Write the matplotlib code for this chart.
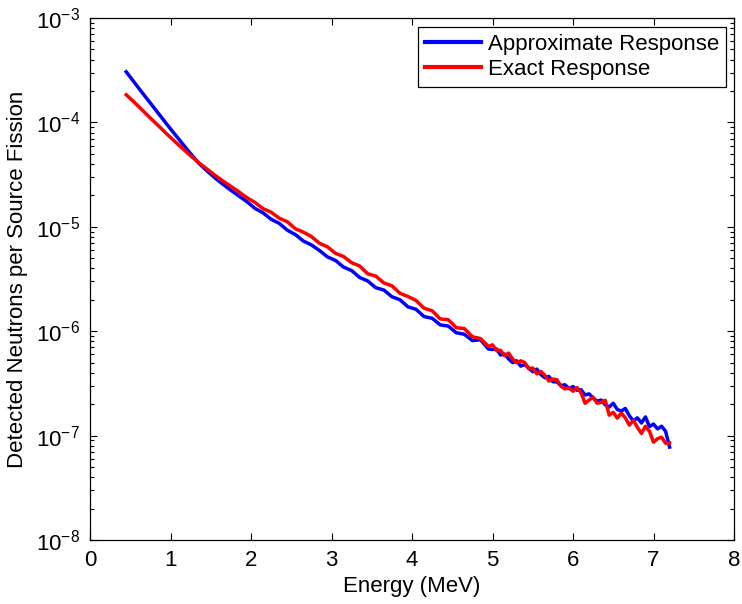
import numpy as np
import matplotlib
matplotlib.use("Agg")
import matplotlib.pyplot as plt

plt.rcParams['font.family'] = ['Liberation Sans', 'DejaVu Sans']
plt.rcParams['mathtext.fontset'] = 'custom'
plt.rcParams['mathtext.rm'] = 'Liberation Sans'
plt.rcParams['mathtext.it'] = 'Liberation Sans:italic'
plt.rcParams['mathtext.bf'] = 'Liberation Sans:bold'

# Energy grid (MeV)
energy = np.round(np.concatenate([np.arange(0.45, 4.96, 0.1),
                                  np.arange(5.0, 7.201, 0.05)]), 3)

# Detected neutrons per source fission — approximate response (blue)
approx = [
    3.05e-4, 2.42e-4, 1.92e-4, 1.53e-4, 1.22e-4, 9.70e-5, 7.76e-5, 6.24e-5,
    5.01e-5, 4.07e-5, 3.45e-5, 2.95e-5, 2.56e-5, 2.24e-5, 1.97e-5, 1.74e-5,
    1.50e-5, 1.36e-5, 1.18e-5, 1.08e-5, 9.29e-6, 8.43e-6, 7.31e-6, 6.71e-6,
    5.93e-6, 5.15e-6, 4.76e-6, 4.11e-6, 3.81e-6, 3.27e-6, 3.03e-6, 2.61e-6,
    2.48e-6, 2.14e-6, 2.00e-6, 1.71e-6, 1.62e-6, 1.38e-6, 1.33e-6, 1.15e-6,
    1.12e-6, 9.66e-7, 9.35e-7, 8.13e-7, 8.28e-7, 6.75e-7,
    6.68e-7, 6.75e-7, 5.92e-7, 6.04e-7, 5.43e-7, 5.00e-7, 5.21e-7, 4.63e-7,
    4.79e-7, 4.46e-7, 4.09e-7, 4.33e-7, 3.85e-7, 3.58e-7, 3.69e-7, 3.28e-7,
    3.27e-7, 3.01e-7, 3.07e-7, 2.82e-7, 2.95e-7, 2.72e-7, 2.75e-7, 2.45e-7,
    2.51e-7, 2.29e-7, 2.14e-7, 2.19e-7, 1.97e-7, 1.88e-7, 2.04e-7, 1.78e-7,
    1.72e-7, 1.82e-7, 1.55e-7, 1.38e-7, 1.48e-7, 1.32e-7, 1.51e-7, 1.22e-7,
    1.29e-7, 1.16e-7, 1.23e-7, 1.10e-7, 7.76e-8,
]

# Detected neutrons per source fission — exact response (red)
exact = [
    1.84e-4, 1.56e-4, 1.31e-4, 1.10e-4, 9.29e-5, 7.80e-5, 6.61e-5, 5.62e-5,
    4.79e-5, 4.12e-5, 3.59e-5, 3.13e-5, 2.75e-5, 2.44e-5, 2.16e-5, 1.90e-5,
    1.71e-5, 1.49e-5, 1.38e-5, 1.21e-5, 1.12e-5, 9.59e-6, 8.89e-6, 8.07e-6,
    6.95e-6, 6.43e-6, 5.56e-6, 5.19e-6, 4.53e-6, 4.21e-6, 3.55e-6, 3.37e-6,
    2.90e-6, 2.72e-6, 2.31e-6, 2.15e-6, 1.97e-6, 1.66e-6, 1.57e-6, 1.31e-6,
    1.29e-6, 1.08e-6, 1.06e-6, 8.85e-7, 8.51e-7, 7.14e-7,
    7.41e-7, 6.52e-7, 6.56e-7, 5.83e-7, 6.17e-7, 5.42e-7, 4.98e-7, 5.20e-7,
    5.01e-7, 4.36e-7, 4.44e-7, 3.90e-7, 4.12e-7, 3.79e-7, 3.33e-7, 3.48e-7,
    3.43e-7, 2.98e-7, 2.80e-7, 2.86e-7, 2.66e-7, 2.88e-7, 2.57e-7, 2.04e-7,
    2.19e-7, 2.33e-7, 2.04e-7, 2.09e-7, 2.18e-7, 1.57e-7, 1.67e-7, 1.47e-7,
    1.64e-7, 1.48e-7, 1.26e-7, 1.40e-7, 1.20e-7, 1.05e-7, 1.23e-7, 1.10e-7,
    8.65e-8, 9.33e-8, 9.66e-8, 8.45e-8, 8.51e-8,
]

series_labels = ["Approximate Response", "Exact Response"]
x_ticks = [0, 1, 2, 3, 4, 5, 6, 7, 8]

W, H = 742, 604
fig = plt.figure(figsize=(W / 100, H / 100), dpi=100)
L, R, T, B = 90, 734, 18, 540
ax = fig.add_axes([L / W, 1 - B / H, (R - L) / W, (B - T) / H])

ax.plot(energy, approx, color=(0, 0, 1), lw=2.5, label=series_labels[0],
        solid_joinstyle='round')
ax.plot(energy, exact, color=(1, 0, 0), lw=2.5, label=series_labels[1],
        solid_joinstyle='round')

ax.set_yscale('log')
ax.set_xlim(0, 8)
ax.set_ylim(1e-8, 1e-3)
ax.set_xticks(x_ticks)
ax.set_xticklabels([str(t) for t in x_ticks])

fs = 16
ax.tick_params(which='both', direction='in', top=True, right=True,
               labelsize=fs, width=0.8, colors='black')
ax.tick_params(which='major', length=5, pad=7)
ax.tick_params(which='minor', length=3)
ax.xaxis.set_minor_locator(matplotlib.ticker.NullLocator())
for s in ax.spines.values():
    s.set_linewidth(0.9)

ax.set_xlabel("Energy (MeV)", fontsize=fs, labelpad=4)
ax.set_ylabel("Detected Neutrons per Source Fission", fontsize=fs, labelpad=6)

leg = ax.legend(loc='upper right', bbox_to_anchor=((726 - L) / (R - L), (B - 27) / (B - T)),
                borderaxespad=0, fontsize=fs, fancybox=False, framealpha=1,
                edgecolor='black', handlelength=2.55, handletextpad=0.3,
                labelspacing=0.2, borderpad=0.3)
leg.get_frame().set_linewidth(0.9)
for line in leg.get_lines():
    line.set_linewidth(3)

fig.savefig("out.png", dpi=100)
